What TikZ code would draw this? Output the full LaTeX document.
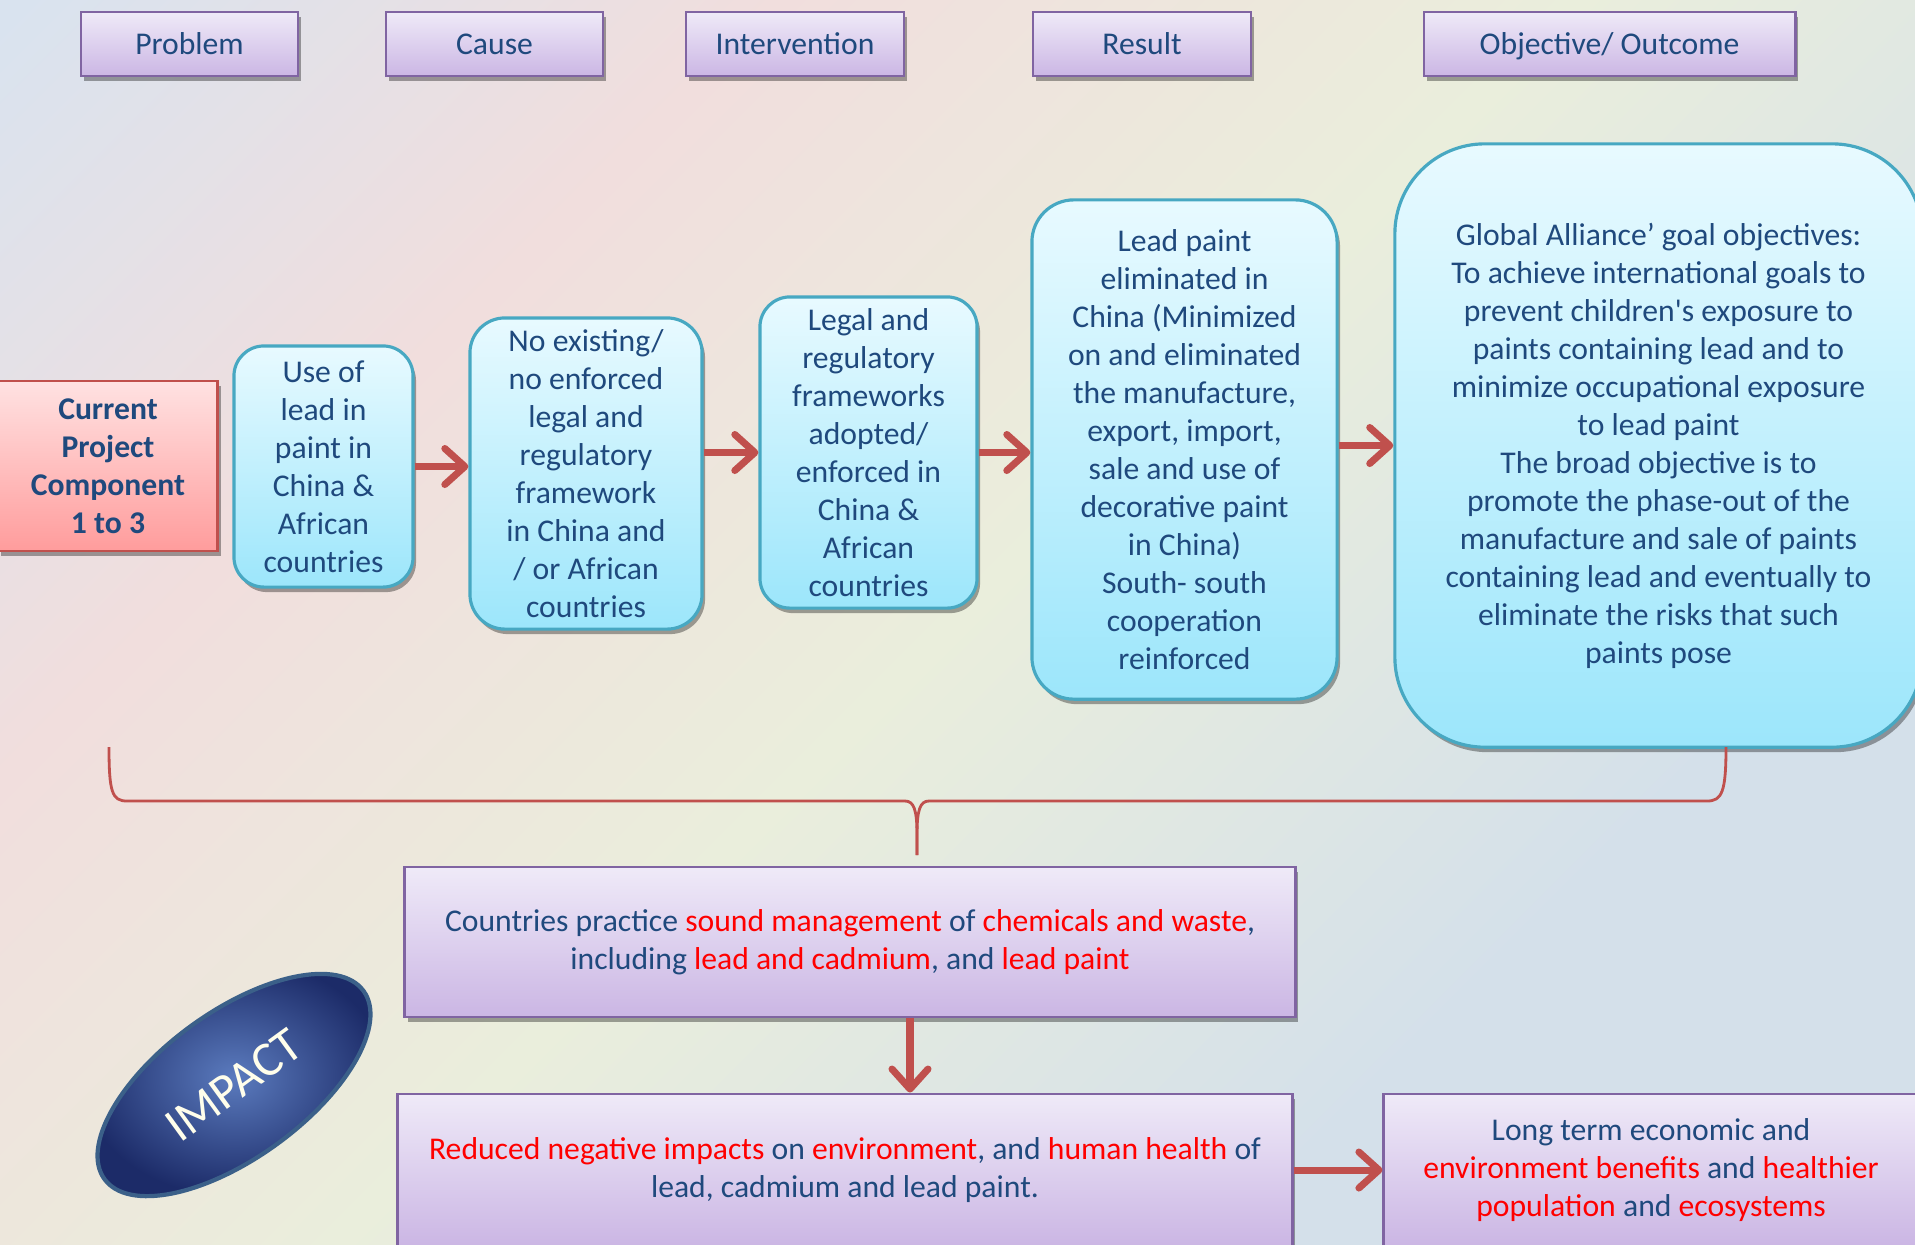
\documentclass[tikz,border=0pt]{standalone}
\usepackage{fontspec}
\setmainfont{Carlito}[Ligatures=TeXOff]
\usepackage{tikz}
\usetikzlibrary{positioning, arrows.meta, shapes.geometric, shadows}

\definecolor{textblue}{HTML}{1F497D}
\definecolor{hotred}{HTML}{FF0000}
\definecolor{arrowred}{HTML}{C0504D}
\definecolor{lavtop}{HTML}{EFEAF8}
\definecolor{lavbot}{HTML}{CBB6E4}
\definecolor{lavline}{HTML}{8064A2}
\definecolor{cyantop}{HTML}{E8FAFF}
\definecolor{cyanbot}{HTML}{9CE6FB}
\definecolor{cyanline}{HTML}{47A8C2}
\definecolor{pinktop}{HTML}{FFE2E2}
\definecolor{pinkbot}{HTML}{FF9C9C}
\definecolor{ovalmid}{HTML}{5B7BBE}
\definecolor{ovaledge}{HTML}{1C2B68}
\definecolor{ovalline}{HTML}{3B6089}
\definecolor{bgA}{HTML}{D9E3EF}
\definecolor{bgB}{HTML}{F1DEDD}
\definecolor{bgC}{HTML}{EAEEDC}
\definecolor{bgD}{HTML}{D4E0EA}

\pgfdeclarehorizontalshading{bgshade}{100bp}{color(0bp)=(bgA); color(15bp)=(bgA); color(32bp)=(bgB); color(50bp)=(bgC); color(70bp)=(bgD); color(100bp)=(bgD)}

\newcommand{\redtxt}[1]{\textcolor{hotred}{#1}}

\tikzset{
x=0.01cm, y=0.01cm, % one unit is one pixel of the slide
every node/.style={font=\fontsize{9}{10.8}\selectfont, text=textblue, align=center, inner sep=0.05cm},
boxshadow/.style={drop shadow={shadow xshift=0.03cm, shadow yshift=-0.05cm, opacity=0.35, fill=black}},
header/.style={rectangle, draw=lavline, line width=0.8pt, top color=lavtop, bottom color=lavbot, minimum height=0.64cm, boxshadow}, % column titles
stage/.style={rectangle, rounded corners=0.3cm, draw=cyanline, line width=0.9pt, top color=cyantop, bottom color=cyanbot, boxshadow}, % the chain of results
current/.style={rectangle, draw=arrowred, line width=0.8pt, top color=pinktop, bottom color=pinkbot, font=\fontsize{9}{10.8}\selectfont\bfseries, boxshadow},
impactbox/.style={rectangle, draw=lavline, line width=0.8pt, top color=lavtop, bottom color=lavbot, boxshadow},
flow/.style={draw=arrowred, line width=2pt, -{Straight Barb[length=0.2cm, width=0.36cm, round]}}, % red arrows
bracket/.style={draw=arrowred, line width=0.8pt},
}

\begin{document}
\begin{tikzpicture}
    \clip (0,0) rectangle (1915,-1244);
    \useasboundingbox (0,0) rectangle (1915,-1244);
    \shade[shading=bgshade, shading angle=-45] (0,0) rectangle (1915,-1244);

    % column titles
    \node[header, minimum width=2.17cm] (hprob) at (189.5,-44) {Problem};
    \node[header, minimum width=2.17cm] (hcause) at (494.5,-44) {Cause};
    \node[header, minimum width=2.18cm] (hint) at (795,-44) {Intervention};
    \node[header, minimum width=2.18cm] (hres) at (1142,-44) {Result};
    \node[header, minimum width=3.71cm, text height=0.78em, text depth=0.18em] (hobj) at (1609.5,-44) {Objective/ Outcome};

    % the chain
    \node[current, minimum width=2.19cm, minimum height=1.70cm] (cur) at (108,-466) {Current\\Project\\Component\\1 to 3};
    \node[stage, minimum width=1.79cm, minimum height=2.41cm] (use) at (323.5,-466.5) {Use of\\lead in\\paint in\\China \&\\African\\countries};
    \node[stage, rounded corners=0.35cm, minimum width=2.32cm, minimum height=3.11cm] (nox) at (586,-473.5) {No existing/\\no enforced\\legal and\\regulatory\\framework\\in China and\\/ or African\\countries};
    \node[stage, minimum width=2.17cm, minimum height=3.11cm] (legal) at (868.5,-452.5) {Legal and\\regulatory\\frameworks\\adopted/\\enforced in\\China \&\\African\\countries};
    \node[stage, rounded corners=0.42cm, minimum width=3.05cm, minimum height=4.99cm] (lead) at (1184.5,-449.5) {Lead paint\\eliminated in\\China (Minimized\\on and eliminated\\the manufacture,\\export, import,\\sale and use of\\decorative paint\\in China)\\South- south\\cooperation\\reinforced};
    \node[stage, rounded corners=0.9cm, minimum width=5.27cm, minimum height=6.03cm] (glob) at (1658.5,-445.5) {Global Alliance’ goal objectives:\\To achieve international goals to\\prevent children's exposure to\\paints containing lead and to\\minimize occupational exposure\\to lead paint\\The broad objective is to\\promote the phase-out of the\\manufacture and sale of paints\\containing lead and eventually to\\eliminate the risks that such\\paints pose};

    \draw[flow] (use.east) -- (use.east -| nox.west);
    \draw[flow] (legal.west -| nox.east) -- (legal.west);
    \draw[flow] (legal.east) -- (legal.east -| lead.west);
    \draw[flow] (glob.west -| lead.east) -- (glob.west);

    % bracket under the chain
    \coordinate (bl) at (109,-747);
    \coordinate (tip) at (917,-855);
    \coordinate (br) at (1726,-747);
    \draw[bracket] (bl) .. controls (109,-792) and (112,-801) .. (127,-801) -- (905,-801)
        .. controls (914,-801) and (917,-810) .. (917,-835) -- (tip);
    \draw[bracket] (tip) -- (917,-835) .. controls (917,-810) and (920,-801) .. (929,-801)
        -- (1707,-801) .. controls (1722,-801) and (1726,-792) .. (br);

    % impact
    \node[impactbox, minimum width=8.90cm, minimum height=1.50cm] (ctry) at (850,-942) {Countries practice \redtxt{sound management} of \redtxt{chemicals and waste},\\including \redtxt{lead and cadmium}, and \redtxt{lead paint}};
    \node[impactbox, minimum width=8.94cm, minimum height=1.52cm] (reduce) at (845,-1170) {\redtxt{Reduced negative impacts} on \redtxt{environment}, and \redtxt{human health} of\\lead, cadmium and lead paint.};
    \node[impactbox, minimum width=5.34cm, minimum height=1.52cm] (longt) at (1651,-1170) {Long term economic and\\\redtxt{environment benefits} and \redtxt{healthier}\\\redtxt{population} and \redtxt{ecosystems}};

    \draw[flow] (ctry.south -| 910,0) -- (reduce.north -| 910,0);
    \draw[flow] (reduce.east) -- (longt.west);

    \node[ellipse, rotate=36, minimum width=3.2cm, minimum height=1.46cm, draw=ovalline, line width=1.2pt, inner color=ovalmid, outer color=ovaledge, text=white!92!yellow, font=\fontsize{14}{16}\selectfont] (impact) at (234,-1085) {IMPACT};
\end{tikzpicture}
\end{document}
